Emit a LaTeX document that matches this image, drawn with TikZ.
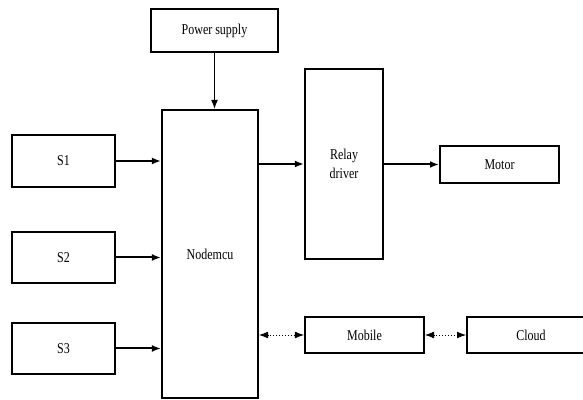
\documentclass[tikz,border=0pt]{standalone}
\usepackage{fontspec}
\setmainfont{Liberation Serif}[FakeStretch=0.8]
\usetikzlibrary{arrows.meta}

\begin{document}
\begin{tikzpicture}[x=0.5pt, y=-0.5pt, every node/.style={font=\fontsize{7.5}{9.5}\selectfont},
	>={Latex[length=1.6mm,width=1.2mm]},
	blk/.style={draw, line width=0.9pt, inner sep=0pt, align=center},
	link/.style={->, line width=1pt},
	wifi/.style={<->, densely dotted, line width=0.45pt}]
	\useasboundingbox (0,0) rectangle (583,400);
	\node[blk, minimum width=63.5pt, minimum height=21.5pt] (pwr) at (214.5,30.5) {Power supply};
	\node[blk, minimum width=48pt, minimum height=144pt] (mcu) at (210,254) {Nodemcu};
	\node[blk, minimum width=51.5pt, minimum height=26pt] (s1) at (63.5,161) {S1};
	\node[blk, minimum width=51.5pt, minimum height=25.5pt] (s2) at (63.5,257.5) {S2};
	\node[blk, minimum width=51.5pt, minimum height=25.5pt] (s3) at (63.5,348.5) {S3};
	\node[blk, minimum width=39pt, minimum height=95pt] (relay) at (344,164) {Relay\\driver};
	\node[blk, minimum width=59.5pt, minimum height=18.5pt] (motor) at (499.5,164.5) {Motor};
	\node[blk, minimum width=59.5pt, minimum height=18pt] (mobile) at (364.5,335) {Mobile};
	\node[blk, minimum width=64pt, minimum height=18pt] (cloud) at (531,335) {Cloud};
	% connections
	\draw[->, line width=0.7pt] (pwr.south) -- (pwr.south |- mcu.north);
	\draw[link] (s1.east) -- (s1.east -| mcu.west);
	\draw[link] (s2.east) -- (s2.east -| mcu.west);
	\draw[link] (s3.east) -- (s3.east -| mcu.west);
	\draw[link] (relay.west -| mcu.east) -- (relay.west);
	\draw[link] (relay.east) -- (relay.east |- motor.west) -- (motor.west);
	\draw[wifi] (mobile.west -| mcu.east) -- (mobile.west);
	\draw[wifi] (mobile.east) -- (cloud.west);
\end{tikzpicture}
\end{document}
